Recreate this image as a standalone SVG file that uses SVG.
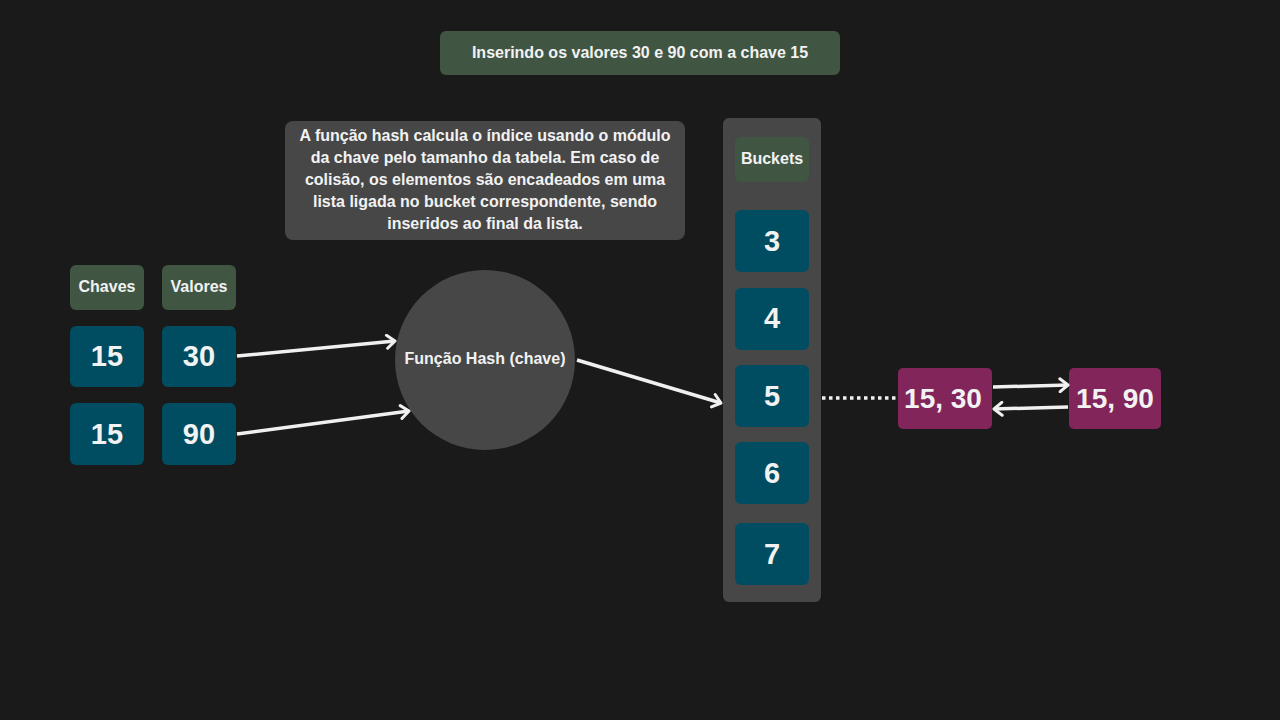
<svg xmlns="http://www.w3.org/2000/svg" width="1280" height="720" viewBox="0 0 1280 720">
<defs>
<style>
.t{font-family:"Liberation Sans",Arial,sans-serif;font-weight:bold;fill:#f2f2f2;text-anchor:middle;dominant-baseline:central}
.g{fill:#415642}
.b{fill:#004d61}
.m{fill:#82255a}
.c{stroke:#f0f0f0;stroke-width:3.5;fill:none}
</style>
<marker id="ah" viewBox="0 0 14 16" refX="11" refY="8" markerWidth="14" markerHeight="16" markerUnits="userSpaceOnUse" orient="auto">
<path d="M3,1.5 L11,8 L3,14.5" fill="none" stroke="#f0f0f0" stroke-width="3" stroke-linecap="round" stroke-linejoin="round"/>
</marker>
</defs>
<rect width="1280" height="720" fill="#1a1a1a"/>
<g id="title"><rect x="440" y="31" width="400" height="44" rx="6" class="g"/><text class="t" x="640" y="52" font-size="16">Inserindo os valores 30 e 90 com a chave 15</text></g>
<g id="desc"><rect x="285" y="121" width="400" height="119" rx="8" fill="#474747"/>
<text class="t" font-size="16"><tspan x="485" y="135">A função hash calcula o índice usando o módulo</tspan><tspan x="485" y="157">da chave pelo tamanho da tabela. Em caso de</tspan><tspan x="485" y="179">colisão, os elementos são encadeados em uma</tspan><tspan x="485" y="201">lista ligada no bucket correspondente, sendo</tspan><tspan x="485" y="223">inseridos ao final da lista.</tspan></text></g>
<g id="buckets-col"><rect x="723" y="118" width="98" height="484" rx="6" fill="#474747"/></g>
<g id="buckets-hdr"><rect x="735" y="137" width="74" height="45" rx="6" class="g"/><text class="t" x="772" y="158" font-size="16">Buckets</text></g>
<g id="b3"><rect x="735" y="210" width="74" height="62" rx="6" class="b"/><text class="t" x="772" y="241" font-size="29">3</text></g>
<g id="b4"><rect x="735" y="288" width="74" height="62" rx="6" class="b"/><text class="t" x="772" y="318" font-size="29">4</text></g>
<g id="b5"><rect x="735" y="365" width="74" height="62" rx="6" class="b"/><text class="t" x="772" y="396" font-size="29">5</text></g>
<g id="b6"><rect x="735" y="442" width="74" height="62" rx="6" class="b"/><text class="t" x="772" y="473" font-size="29">6</text></g>
<g id="b7"><rect x="735" y="523" width="74" height="62" rx="6" class="b"/><text class="t" x="772" y="554" font-size="29">7</text></g>
<g id="chaves"><rect x="70" y="265" width="74" height="45" rx="6" class="g"/><text class="t" x="107" y="286" font-size="16">Chaves</text></g>
<g id="valores"><rect x="162" y="265" width="74" height="45" rx="6" class="g"/><text class="t" x="199" y="286" font-size="16">Valores</text></g>
<g id="k1"><rect x="70" y="326" width="74" height="61" rx="6" class="b"/><text class="t" x="107" y="356" font-size="29">15</text></g>
<g id="v1"><rect x="162" y="326" width="74" height="61" rx="6" class="b"/><text class="t" x="199" y="356" font-size="29">30</text></g>
<g id="k2"><rect x="70" y="403" width="74" height="62" rx="6" class="b"/><text class="t" x="107" y="434" font-size="29">15</text></g>
<g id="v2"><rect x="162" y="403" width="74" height="62" rx="6" class="b"/><text class="t" x="199" y="434" font-size="29">90</text></g>
<g id="hash"><circle cx="485" cy="360" r="90" fill="#474747"/><text class="t" x="485" y="358" font-size="16">Função Hash (chave)</text></g>
<g id="n1"><rect x="898" y="368" width="94" height="61" rx="5" class="m"/><text class="t" x="943" y="398" font-size="28">15, 30</text></g>
<g id="n2"><rect x="1069" y="368" width="92" height="61" rx="5" class="m"/><text class="t" x="1115" y="398" font-size="28">15, 90</text></g>
<g id="connectors">
<line class="c" x1="237" y1="356" x2="395" y2="341" marker-end="url(#ah)"/>
<line class="c" x1="237" y1="434" x2="409" y2="411" marker-end="url(#ah)"/>
<line class="c" x1="577" y1="360" x2="721" y2="403" marker-end="url(#ah)"/>
<line x1="822" y1="398" x2="897" y2="398" stroke="#f0f0f0" stroke-width="3.5" stroke-dasharray="3.5,3.5"/>
<line class="c" x1="993" y1="387" x2="1068" y2="385" marker-end="url(#ah)"/>
<line class="c" x1="1068" y1="407" x2="994" y2="409" marker-end="url(#ah)"/>
</g>
</svg>
